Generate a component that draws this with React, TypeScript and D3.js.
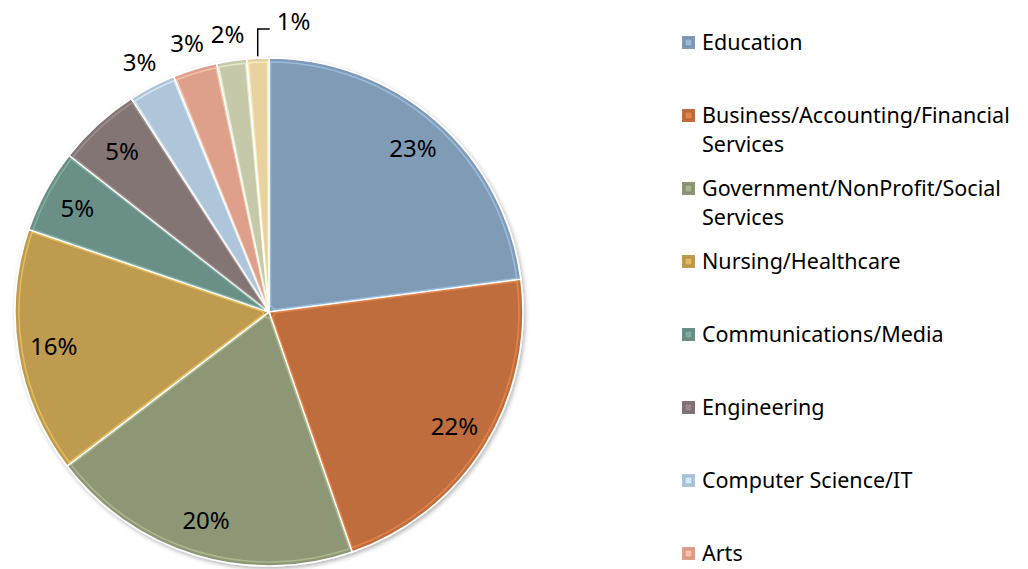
import React from "react";
import * as d3 from "d3";

const categories = [
  "Education",
  "Business/Accounting/Financial Services",
  "Government/NonProfit/Social Services",
  "Nursing/Healthcare",
  "Communications/Media",
  "Engineering",
  "Computer Science/IT",
  "Arts",
  "Science/Research",
  "Law",
];
const values = [22.9, 21.7, 19.9, 15.6, 5.3, 5.3, 3.0, 2.8, 1.9, 1.4];
const colors = [
  "#7f9bb6",
  "#bf6d3c",
  "#8d9774",
  "#bf9b4f",
  "#6b8f87",
  "#837473",
  "#afc5da",
  "#dfa08b",
  "#c5c9aa",
  "#e8d2a0",
];

const W = 1028;
const H = 569;
const CX = 269;
const CY = 312;
const R = 254;
const FONT = "'Noto Sans', 'DejaVu Sans', sans-serif";

function wrap(label: string): string[] {
  if (label.length <= 24) return [label];
  const i = label.lastIndexOf(" ");
  return [label.slice(0, i), label.slice(i + 1)];
}

export default function App() {
  const total = d3.sum(values);
  const pie = d3
    .pie<number>()
    .sort(null)
    .value((d) => d)
    .startAngle(0)
    .endAngle(2 * Math.PI);
  const arcs = pie(values);
  const arc = d3.arc<d3.PieArcDatum<number>>().innerRadius(0).outerRadius(R);
  const inner = d3
    .arc<d3.PieArcDatum<number>>()
    .innerRadius(6)
    .outerRadius(R - 4)
    .padAngle(0.012);
  const inLabel = d3.arc<d3.PieArcDatum<number>>().innerRadius(218).outerRadius(218);
  const outLabel = d3.arc<d3.PieArcDatum<number>>().innerRadius(281).outerRadius(281);

  const legendY = d3.scaleLinear().domain([0, 1]).range([42, 115]);

  return (
    <svg
      width={W}
      height={H}
      style={{ position: "absolute", left: 0, top: 0, background: "#fff" }}
      fontFamily={FONT}
    >
      <defs>
        <filter id="sh" x="-10%" y="-10%" width="120%" height="120%">
          <feDropShadow dx="1.5" dy="2" stdDeviation="2" floodOpacity="0.3" />
        </filter>
      </defs>
      <g transform={`translate(${CX},${CY})`}>
        <g filter="url(#sh)">
          {arcs.map((a, i) => (
            <path key={i} d={arc(a) || ""} fill={colors[i]} stroke="#ffffff" strokeWidth={1.6} />
          ))}
        </g>
        {arcs.map((a, i) => (
          <path
            key={"h" + i}
            d={inner(a) || ""}
            fill="none"
            stroke={d3.color(colors[i])!.brighter(0.9).formatHex()}
            strokeWidth={1.6}
            strokeOpacity={0.55}
          />
        ))}
        {arcs.map((a, i) => {
          const pct = Math.round((values[i] / total) * 100);
          const txt = `${pct}%`;
          if (pct >= 5) {
            const [x, y] = inLabel.centroid(a);
            return (
              <text key={"l" + i} x={x} y={y} dy="0.36em" textAnchor="middle" fontSize={24} fill="#000">
                {txt}
              </text>
            );
          }
          if ((values[i] / total) * 100 >= 1.5) {
            const [x, y] = outLabel.centroid(a);
            return (
              <text key={"l" + i} x={x} y={y} dy="0.36em" textAnchor="middle" fontSize={24} fill="#000">
                {txt}
              </text>
            );
          }
          const mid = (a.startAngle + a.endAngle) / 2;
          const x0 = Math.sin(mid) * (R + 2);
          const y0 = -Math.cos(mid) * (R + 2);
          const yTop = -R - 29;
          return (
            <g key={"l" + i}>
              <path
                d={`M${x0},${y0}V${yTop}H${x0 + 12}`}
                fill="none"
                stroke="#000"
                strokeWidth={1.5}
              />
              <text x={x0 + 19} y={yTop - 8} dy="0.36em" textAnchor="start" fontSize={24} fill="#000">
                {txt}
              </text>
            </g>
          );
        })}
      </g>
      <g>
        {categories.map((c, i) => {
          const y = legendY(i);
          if (y > H - 10) return null;
          const lines = wrap(c);
          const col = colors[i];
          return (
            <g key={"g" + i}>
              <rect x={682} y={y - 6} width={13} height={13} fill={col} />
              <rect
                x={685}
                y={y - 3}
                width={7}
                height={7}
                fill={d3.color(col)!.brighter(0.5).formatHex()}
                stroke={d3.color(col)!.darker(0.4).formatHex()}
                strokeWidth={0.8}
              />
              {lines.map((ln, j) => (
                <text key={j} x={702} y={y + j * 29} dy="0.36em" fontSize={21.5} fill="#000">
                  {ln}
                </text>
              ))}
            </g>
          );
        })}
      </g>
    </svg>
  );
}
